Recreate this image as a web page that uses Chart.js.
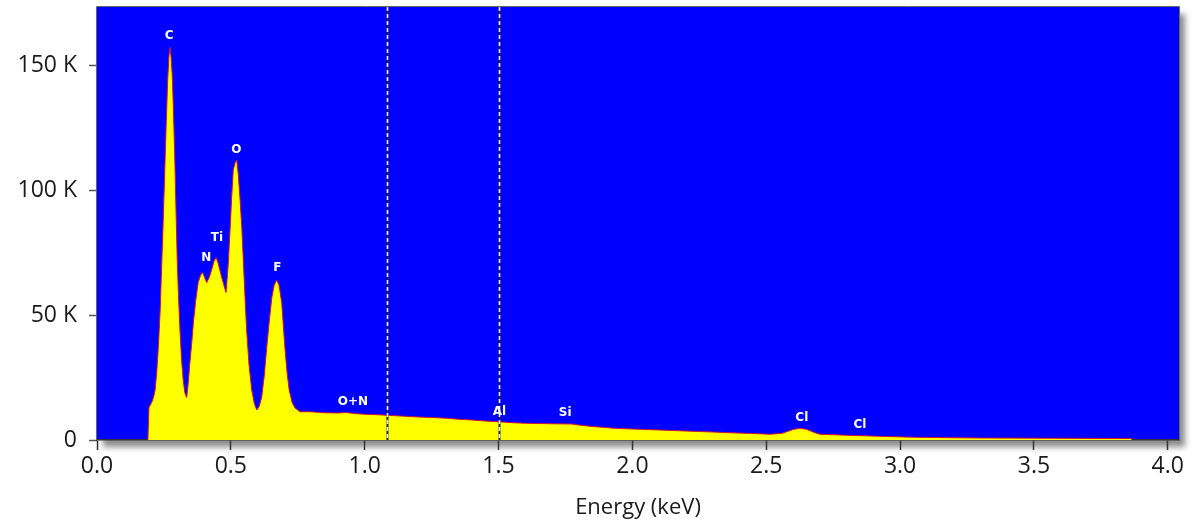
<!DOCTYPE html>
<html>
<head>
<meta charset="utf-8">
<script src="https://cdn.jsdelivr.net/npm/chart.js@4/dist/chart.umd.min.js"></script>
<style>
  body { margin: 0; background: #fff; }
  canvas { display: block; }
</style>
</head>
<body>
<canvas id="edsChart" width="1198" height="523"></canvas>
<script>
const energies = [
    0.190, 0.194, 0.204, 0.211, 0.217, 0.223, 0.229, 0.236, 0.242, 0.248,
    0.254, 0.259, 0.264, 0.269, 0.273, 0.277, 0.281, 0.285, 0.291, 0.296,
    0.300, 0.305, 0.310, 0.316, 0.322, 0.328, 0.335, 0.341, 0.347, 0.354,
    0.360, 0.369, 0.378, 0.387, 0.395, 0.402, 0.410, 0.419, 0.428, 0.437,
    0.445, 0.452, 0.459, 0.466, 0.474, 0.482, 0.490, 0.497, 0.503, 0.509,
    0.516, 0.522, 0.528, 0.534, 0.541, 0.547, 0.553, 0.559, 0.568, 0.578,
    0.588, 0.597, 0.606, 0.615, 0.625, 0.634, 0.643, 0.653, 0.662, 0.671,
    0.680, 0.690, 0.696, 0.702, 0.710, 0.718, 0.729, 0.740, 0.758, 0.796,
    0.850, 0.900, 0.930, 0.960, 1.000, 1.050, 1.083, 1.150, 1.200, 1.250,
    1.306, 1.350, 1.400, 1.450, 1.500, 1.555, 1.600, 1.650, 1.700, 1.773,
    1.800, 1.850, 1.900, 1.930, 2.000, 2.100, 2.200, 2.300, 2.365, 2.450,
    2.514, 2.560, 2.600, 2.626, 2.650, 2.680, 2.700, 2.800, 2.862, 2.950,
    3.050, 3.198, 3.300, 3.571, 3.700, 3.865
];
const counts = [
    0, 13000, 15000, 17000, 20000, 27000, 37000, 52000, 71000, 90000,
    111000, 128000, 144000, 154000, 157000, 153000, 146000, 134000, 111000, 88000,
    71000, 56000, 44000, 32000, 24000, 19000, 17000, 23000, 31000, 39000,
    47000, 56000, 63000, 66000, 67000, 65000, 63000, 65000, 68000, 71500,
    73000, 71000, 68000, 65000, 62000, 59000, 70000, 84000, 97000, 108000,
    111000, 112000, 106000, 97000, 85000, 71000, 57000, 44000, 30000, 20000,
    14500, 12000, 13500, 17000, 26000, 37000, 47000, 57000, 62000, 64000,
    62000, 55000, 46000, 37000, 27000, 20000, 15000, 12800, 11300, 11300,
    10900, 10800, 11000, 10600, 10300, 10100, 9900, 9500, 9200, 9000,
    8700, 8300, 8000, 7600, 7300, 6900, 6700, 6600, 6500, 6400,
    6000, 5400, 5000, 4700, 4400, 4000, 3600, 3200, 2900, 2600,
    2300, 2700, 4200, 4700, 4300, 3000, 2300, 1900, 1700, 1400,
    1100, 900, 800, 700, 650, 600
];
const peakNames = ['C', 'N', 'Ti', 'O', 'F', 'O+N', 'Al', 'Si', 'Cl', 'Cl'];
const peakLabelEnergies = [0.270, 0.408, 0.448, 0.521, 0.674, 0.956, 1.503, 1.749, 2.633, 2.850];
const peakLabelCounts = [161500, 72900, 80800, 116000, 68900, 15300, 11100, 10700, 8900, 6000];
const markerEnergies = [1.083, 1.500];
const xTicks = [0, 0.5, 1.0, 1.5, 2.0, 2.5, 3.0, 3.5, 4.0];
const yTicks = [0, 50000, 100000, 150000];

const fontFamily = '"Open Sans", "Noto Sans", sans-serif';
const textColor = '#1a1a1a';

const plotFrame = {
    id: 'plotFrame',
    beforeDraw(chart) {
        const { ctx, chartArea: a } = chart;
        ctx.save();
        ctx.shadowColor = 'rgba(0, 0, 0, 0.45)';
        ctx.shadowBlur = 6;
        ctx.shadowOffsetX = 6;
        ctx.shadowOffsetY = 7;
        ctx.fillStyle = '#0000ff';
        ctx.fillRect(a.left, a.top, a.right - a.left, a.bottom - a.top);
        ctx.restore();
    },
    afterDatasetsDraw(chart) {
        const { ctx, chartArea: a, scales } = chart;
        ctx.save();
        markerEnergies.forEach(e => {
            const px = Math.round(scales.x.getPixelForValue(e)) + 0.5;
            ctx.beginPath();
            ctx.moveTo(px, a.top);
            ctx.lineTo(px, a.bottom);
            ctx.strokeStyle = '#1c1c50';
            ctx.lineWidth = 2;
            ctx.stroke();
            ctx.setLineDash([4, 3]);
            ctx.strokeStyle = '#ffffff';
            ctx.lineWidth = 1.5;
            ctx.stroke();
            ctx.setLineDash([]);
        });
        ctx.fillStyle = '#ffffff';
        ctx.font = 'bold 12px "DejaVu Sans", sans-serif';
        ctx.textAlign = 'center';
        ctx.textBaseline = 'middle';
        peakNames.forEach((name, i) => {
            const px = scales.x.getPixelForValue(peakLabelEnergies[i]);
            const py = scales.y.getPixelForValue(peakLabelCounts[i]);
            ctx.fillText(name, px, py);
        });
        ctx.strokeStyle = '#666666';
        ctx.lineWidth = 1;
        ctx.beginPath();
        ctx.moveTo(a.left - 0.5, a.bottom);
        ctx.lineTo(a.left - 0.5, a.top - 0.5);
        ctx.lineTo(a.right + 0.5, a.top - 0.5);
        ctx.lineTo(a.right + 0.5, a.bottom);
        ctx.stroke();
        ctx.restore();
    }
};

const points = energies.map((e, i) => ({ x: e, y: counts[i] }));

new Chart(document.getElementById('edsChart'), {
    type: 'line',
    data: {
        datasets: [{
            data: points,
            borderColor: '#c8103c',
            borderWidth: 1,
            backgroundColor: '#ffff00',
            fill: 'origin',
            pointRadius: 0,
            tension: 0
        }]
    },
    options: {
        responsive: false,
        animation: false,
        events: [],
        layout: { padding: { top: 7, right: 19, left: 0, bottom: 0 } },
        plugins: { legend: { display: false }, tooltip: { enabled: false } },
        scales: {
            x: {
                type: 'linear',
                min: 0,
                max: 4.042,
                z: 1,
                afterFit(scale) {
                    scale.height = 83;
                    scale.paddingLeft = 0;
                    scale.paddingRight = 0;
                },
                afterBuildTicks(scale) { scale.ticks = xTicks.map(v => ({ value: v })); },
                grid: { drawOnChartArea: false, drawTicks: true, tickLength: 10, tickColor: '#333', tickWidth: 1.5 },
                border: { display: true, color: '#333', width: 1.5 },
                ticks: {
                    padding: 3,
                    color: textColor,
                    font: { family: fontFamily, size: 23 },
                    maxRotation: 0,
                    callback: v => v.toFixed(1)
                },
                title: {
                    display: true,
                    text: 'Energy (keV)',
                    color: textColor,
                    font: { family: fontFamily, size: 22 },
                    padding: { top: 0, bottom: 2 }
                }
            },
            y: {
                type: 'linear',
                min: 0,
                max: 173200,
                afterFit(scale) {
                    scale.width = 97;
                    scale.paddingTop = 0;
                    scale.paddingBottom = 0;
                },
                afterBuildTicks(scale) { scale.ticks = yTicks.map(v => ({ value: v })); },
                grid: { drawOnChartArea: false, drawTicks: true, tickLength: 8, tickColor: '#555', tickWidth: 1.5 },
                border: { display: false },
                ticks: {
                    padding: 12,
                    color: textColor,
                    font: { family: fontFamily, size: 23 },
                    callback: v => v === 0 ? '0' : (v / 1000) + ' K'
                }
            }
        }
    },
    plugins: [plotFrame]
});
</script>
</body>
</html>
